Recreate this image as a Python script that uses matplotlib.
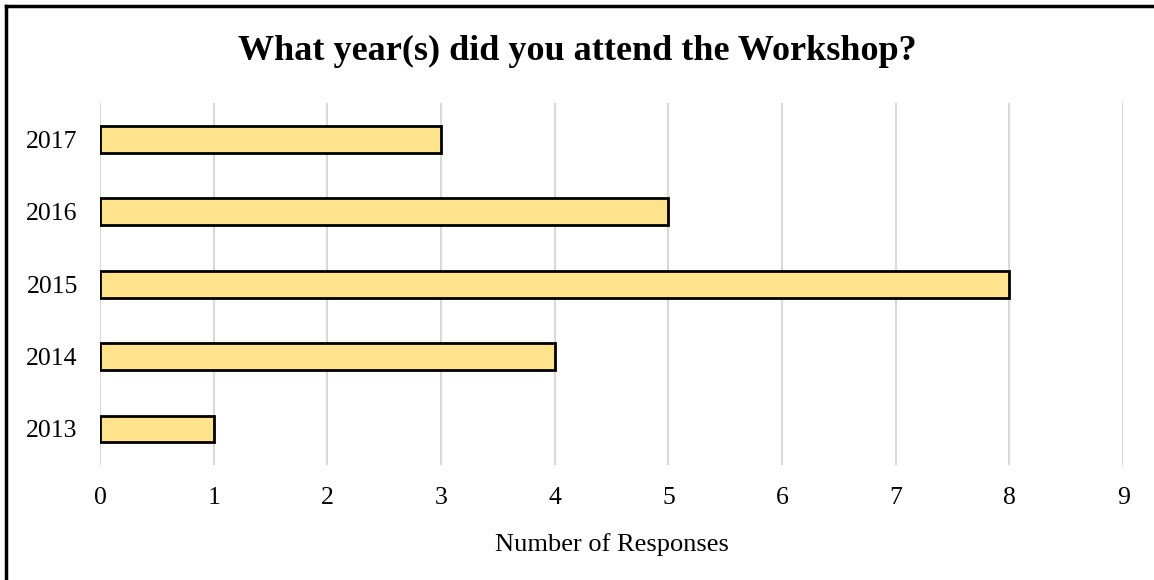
import matplotlib.pyplot as plt
from matplotlib.lines import Line2D

years = ["2013", "2014", "2015", "2016", "2017"]
responses = [1, 4, 8, 5, 3]
x_ticks = list(range(0, 10))

plt.rcParams['font.family'] = ['Liberation Serif', 'DejaVu Serif']

fig = plt.figure(figsize=(11.54, 5.8), dpi=100)
ax = fig.add_axes([0.0867, 0.198, 0.8865, 0.624])

ax.barh(years, responses, height=0.37, color='#FFE38C',
        edgecolor='black', linewidth=2, zorder=3)

ax.set_xlim(0, 9)
ax.set_ylim(-0.5, 4.5)
ax.set_xticks(x_ticks)
ax.grid(axis='x', color='#d9d9d9', linewidth=1.5, zorder=0)
ax.tick_params(axis='both', length=0, labelsize=18.5, colors='black')
ax.tick_params(axis='x', pad=16)
ax.tick_params(axis='y', pad=16)
for s in ax.spines.values():
    s.set_visible(False)

ax.set_xlabel("Number of Responses", fontsize=19, labelpad=17)
fig.text(0.5, 0.912, "What year(s) did you attend the Workshop?",
         ha='center', va='center', fontsize=26, fontweight='bold')

# frame along the top and left edges
fig.add_artist(Line2D([6 / 1154, 1], [1 - 6 / 580, 1 - 6 / 580],
                      color='black', linewidth=2.5, transform=fig.transFigure))
fig.add_artist(Line2D([6 / 1154, 6 / 1154], [0, 1 - 6 / 580],
                      color='black', linewidth=2.5, transform=fig.transFigure))

fig.savefig("out.png", dpi=100)
